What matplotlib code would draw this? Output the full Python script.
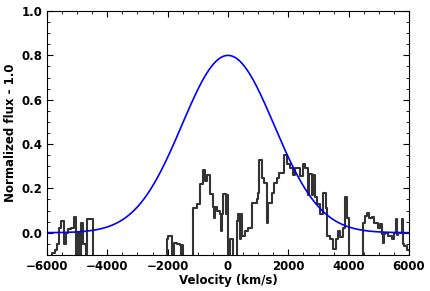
import numpy as np
import matplotlib
matplotlib.use("Agg")
import matplotlib.pyplot as plt
from matplotlib.ticker import MultipleLocator

# Binned spectrum: left edge of each bin (km/s) and normalized flux - 1
velocity = [-6000, -5830, -5735, -5665, -5600, -5530, -5430, -5360, -5290, -5220,
            -5120, -5050, -4990, -4955, -4920, -4880, -4860, -4790, -4720, -4660,
            -4480, -2030, -1995, -1870, -1800, -1700, -1600, -1565, -1530, -1495,
            -1460, -1160, -1030, -930, -830, -765, -700, -600, -500, -465,
            -430, -365, -265, -230, -195, -165, -80, -40, 0, 65,
            165, 300, 330, 400, 430, 465, 565, 665, 795, 960,
            995, 1040, 1125, 1195, 1295, 1330, 1460, 1525, 1625, 1690,
            1855, 1955, 2055, 2155, 2220, 2385, 2485, 2555, 2650, 2700,
            2780, 2820, 2900, 2950, 3050, 3150, 3250, 3280, 3380, 3480,
            3580, 3645, 3710, 3810, 3880, 3945, 4000, 4475, 4540, 4620,
            4675, 4775, 4840, 4970, 5040, 5105, 5140, 5170, 5205, 5305,
            5435, 5505, 5570, 5600, 5635, 5770, 5800, 5835, 5935, 6000]
flux = [-0.2, -0.09, -0.08, -0.05, 0.02, 0.055, -0.05, 0.0, 0.015, 0.02,
        0.07, -0.2, 0.0, -0.2, 0.0, -0.2, 0.045, -0.05, -0.2, 0.06,
        -0.2, -0.03, -0.015, -0.2, -0.045, -0.05, -0.055, -0.2, -0.055, -0.2,
        -0.2, 0.11, 0.13, 0.22, 0.285, 0.235, 0.26, 0.175, 0.115, 0.065,
        0.115, 0.1, 0.085, 0.01, 0.085, 0.175, 0.085, 0.17, -0.2, -0.03,
        -0.2, 0.055, 0.085, -0.03, 0.085, -0.015, 0.01, 0.02, 0.135, 0.15,
        0.18, 0.33, 0.245, 0.225, 0.045, 0.135, 0.18, 0.225, 0.245, 0.27,
        0.35, 0.31, 0.29, 0.26, 0.29, 0.255, 0.31, 0.29, 0.17, 0.265,
        0.17, 0.26, 0.16, 0.13, 0.085, 0.18, 0.11, -0.015, -0.03, -0.075,
        -0.03, 0.01, -0.02, 0.02, 0.16, 0.065, -0.2, 0.045, 0.077, 0.09,
        0.065, 0.07, 0.045, 0.023, 0.04, -0.005, -0.045, -0.005, 0.0, -0.015,
        -0.03, 0.0, 0.06, -0.01, 0.0, 0.06, -0.05, -0.06, -0.08, -0.08]

# Gaussian model
amp = 0.8
center = 0.0
sigma = 1530.0

fig = plt.figure(figsize=(4.31, 2.91), dpi=100)
ax = fig.add_axes([0.109, 0.124, 0.840, 0.838])

ax.step(velocity, flux, where='post', color='#333333', lw=1.5)
vg = np.linspace(-6000, 6000, 600)
ax.plot(vg, amp * np.exp(-(vg - center) ** 2 / (2 * sigma ** 2)), color='blue', lw=1.2)

ax.set_xlim(-6000, 6000)
ax.set_ylim(-0.1, 1.0)
ax.xaxis.set_major_locator(MultipleLocator(2000))
ax.xaxis.set_minor_locator(MultipleLocator(500))
ax.yaxis.set_major_locator(MultipleLocator(0.2))
ax.yaxis.set_minor_locator(MultipleLocator(0.05))
ax.tick_params(which='both', direction='in', top=True, right=True)
ax.tick_params(which='major', length=4, labelsize=8.5)
ax.tick_params(which='minor', length=2)
for lab in ax.get_xticklabels() + ax.get_yticklabels():
    lab.set_fontweight('bold')
ax.set_xlabel('Velocity (km/s)', fontsize=8.5, fontweight='bold', labelpad=1)
ax.set_ylabel('Normalized flux - 1.0', fontsize=8.5, fontweight='bold', labelpad=3)

fig.savefig('out.png', dpi=100)
